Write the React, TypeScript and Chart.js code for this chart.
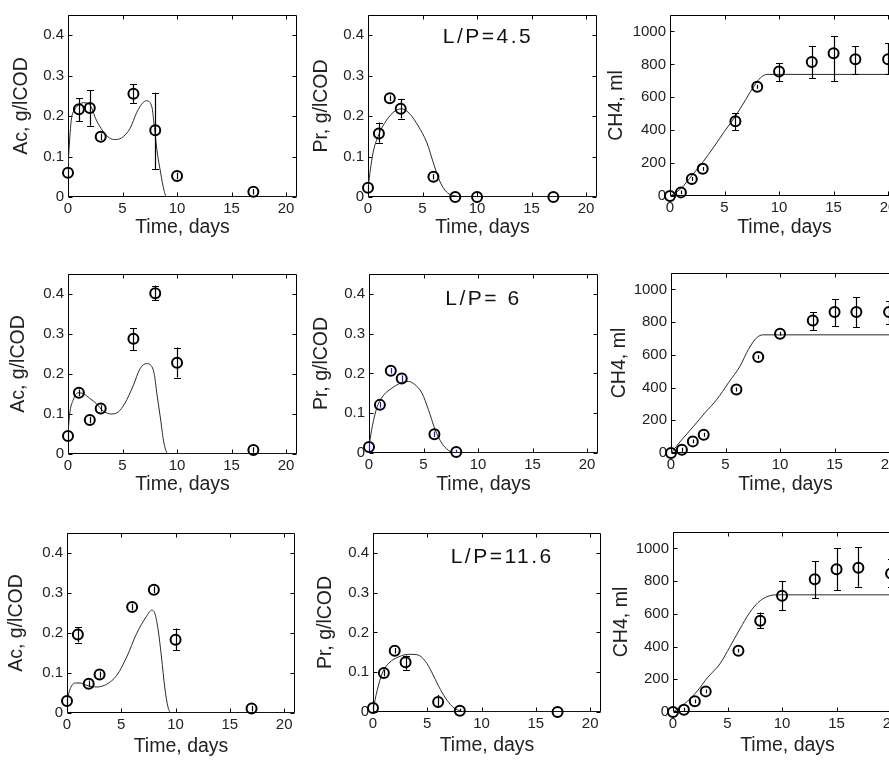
import React, { useEffect, useRef } from "react";
import { Chart, registerables } from "chart.js";

Chart.register(...registerables);

// ---------------- axis ticks & titles ----------------
const timeTicks = [0, 5, 10, 15, 20];
const timeTickLabels = ["0", "5", "10", "15", "20"];
const concTicks = [0, 0.1, 0.2, 0.3, 0.4];
const concTickLabels = ["0", "0.1", "0.2", "0.3", "0.4"];
const ch4Ticks = [0, 200, 400, 600, 800, 1000];
const ch4TickLabels = ["0", "200", "400", "600", "800", "1000"];
const timeTitle = "Time, days";
const acTitle = "Ac, g/lCOD";
const prTitle = "Pr, g/lCOD";
const ch4Title = "CH4, ml";
const lpLabels = ["L/P=4.5", "L/P= 6", "L/P=11.6"];

// ---------------- L/P = 4.5 ----------------
const ac45Days = [0, 1, 2, 3, 6, 8, 10, 17];
const ac45Vals = [0.06, 0.217, 0.22, 0.149, 0.255, 0.165, 0.052, 0.013];
const ac45Lo = [0.052, 0.188, 0.176, 0.141, 0.233, 0.069, 0.044, 0.006];
const ac45Hi = [0.068, 0.244, 0.264, 0.157, 0.279, 0.258, 0.06, 0.02];
const ac45CurveDays = [0, 0.1, 0.3, 0.6, 0.9, 1.4, 2.0, 2.6, 3.2, 3.8, 4.3, 4.9, 5.7, 6.3, 6.9, 7.2, 7.7, 7.85, 8.15, 8.5, 8.8, 9.05, 21];
const ac45CurveVals = [0.07, 0.12, 0.19, 0.215, 0.226, 0.233, 0.228, 0.19, 0.163, 0.146, 0.142, 0.146, 0.17, 0.209, 0.234, 0.238, 0.222, 0.19, 0.117, 0.059, 0.017, 0, 0];

const pr45Days = [0, 1, 2, 3, 6, 8, 10, 17];
const pr45Vals = [0.023, 0.157, 0.244, 0.218, 0.05, 0, 0, 0];
const pr45Lo = [0.016, 0.134, 0.237, 0.194, 0.043, 0, 0, 0];
const pr45Hi = [0.03, 0.184, 0.251, 0.243, 0.057, 0, 0, 0];
const pr45CurveDays = [0, 0.46, 0.92, 1.7, 2.5, 3.1, 3.85, 4.6, 5.4, 6.0, 6.6, 7.2, 8.15, 9, 21];
const pr45CurveVals = [0.025, 0.109, 0.15, 0.19, 0.213, 0.218, 0.205, 0.176, 0.134, 0.084, 0.038, 0.0125, 0.002, 0, 0];

const ch445Days = [0, 1, 2, 3, 6, 8, 10, 13, 15, 17, 20];
const ch445Vals = [0, 22, 104, 165, 454, 664, 756, 815, 868, 831, 831];
const ch445Lo = [0, 10, 92, 153, 399, 652, 699, 715, 699, 739, 739];
const ch445Hi = [0, 34, 116, 177, 505, 676, 806, 912, 973, 912, 929];
const ch445CurveDays = [0, 1, 2.05, 3, 4.05, 5, 6, 6.95, 7.7, 8.3, 8.9, 21];
const ch445CurveVals = [0, 45, 128, 205, 301, 393, 485, 587, 668, 719, 739, 739];

// ---------------- L/P = 6 ----------------
const ac6Days = [0, 1, 2, 3, 6, 8, 10, 17];
const ac6Vals = [0.045, 0.153, 0.085, 0.114, 0.288, 0.402, 0.228, 0.01];
const ac6Lo = [0.037, 0.145, 0.077, 0.106, 0.259, 0.385, 0.191, 0.003];
const ac6Hi = [0.053, 0.161, 0.093, 0.122, 0.315, 0.421, 0.266, 0.017];
const ac6CurveDays = [0, 0.15, 0.46, 0.92, 1.4, 2.0, 2.6, 3.2, 4.0, 4.6, 5.2, 6.0, 6.6, 7.2, 7.5, 7.9, 8.15, 8.5, 8.8, 9.2, 21];
const ac6CurveVals = [0.05, 0.1, 0.134, 0.153, 0.151, 0.139, 0.126, 0.108, 0.1, 0.105, 0.126, 0.172, 0.213, 0.226, 0.224, 0.201, 0.151, 0.085, 0.027, 0, 0];

const pr6Days = [0, 1, 2, 3, 6, 8];
const pr6Vals = [0.015, 0.121, 0.207, 0.187, 0.047, 0.0025];
const pr6Lo = [0.008, 0.114, 0.2, 0.179, 0.04, 0];
const pr6Hi = [0.022, 0.128, 0.214, 0.195, 0.054, 0.008];
const pr6CurveDays = [0, 0.3, 0.76, 1.36, 2.1, 3.0, 3.6, 4.2, 4.85, 5.45, 6.06, 6.67, 7.27, 7.9, 21];
const pr6CurveVals = [0.017, 0.067, 0.117, 0.146, 0.163, 0.177, 0.18, 0.172, 0.151, 0.109, 0.059, 0.025, 0.007, 0, 0];

const ch46Days = [0, 1, 2, 3, 6, 8, 10, 13, 15, 17, 20];
const ch46Vals = [0, 20, 71, 112, 388, 586, 729, 810, 861, 861, 861];
const ch46Lo = [0, 8, 59, 100, 376, 574, 717, 751, 776, 769, 786];
const ch46Hi = [0, 32, 83, 124, 400, 598, 741, 861, 939, 953, 929];
const ch46CurveDays = [0, 1, 2.07, 3.1, 4.2, 5.27, 6.33, 7.1, 7.85, 8.46, 21];
const ch46CurveVals = [0, 82, 163, 245, 327, 429, 531, 633, 704, 722, 722];

// ---------------- L/P = 11.6 ----------------
const ac116Days = [0, 1, 2, 3, 6, 8, 10, 17];
const ac116Vals = [0.03, 0.196, 0.073, 0.096, 0.265, 0.308, 0.183, 0.011];
const ac116Lo = [0.022, 0.176, 0.065, 0.088, 0.257, 0.3, 0.157, 0.004];
const ac116Hi = [0.038, 0.215, 0.081, 0.104, 0.273, 0.316, 0.211, 0.018];
const ac116CurveDays = [0, 0.3, 0.76, 1.2, 1.83, 2.75, 3.66, 4.58, 5.5, 6.4, 7.33, 7.8, 8.1, 8.4, 8.7, 9.0, 9.3, 9.6, 21];
const ac116CurveVals = [0.032, 0.061, 0.075, 0.075, 0.069, 0.065, 0.072, 0.094, 0.14, 0.198, 0.242, 0.257, 0.248, 0.207, 0.14, 0.065, 0.015, 0, 0];

const pr116Days = [0, 1, 2, 3, 6, 8, 17];
const pr116Vals = [0.01, 0.098, 0.154, 0.125, 0.025, 0.003, 0];
const pr116Lo = [0.003, 0.09, 0.147, 0.106, 0.01, 0, 0];
const pr116Hi = [0.017, 0.106, 0.161, 0.142, 0.043, 0.008, 0];
const pr116CurveDays = [0, 0.4, 0.86, 1.47, 2.4, 3.3, 4.07, 4.84, 5.45, 6.06, 6.68, 7.3, 7.9, 8.5, 21];
const pr116CurveVals = [0.006, 0.056, 0.098, 0.123, 0.139, 0.145, 0.144, 0.127, 0.098, 0.064, 0.035, 0.014, 0.004, 0, 0];

const ch4116Days = [0, 1, 2, 3, 6, 8, 10, 13, 15, 17, 20];
const ch4116Vals = [0, 14, 65, 126, 375, 558, 710, 811, 872, 882, 846];
const ch4116Lo = [0, 2, 53, 114, 363, 513, 623, 696, 746, 765, 761];
const ch4116Hi = [0, 26, 77, 138, 387, 608, 801, 923, 1000, 1008, 937];
const ch4116CurveDays = [0, 1.07, 2.15, 3.2, 4.3, 5.2, 6.13, 7.05, 7.8, 8.6, 9.5, 21];
const ch4116CurveVals = [0, 51, 122, 213, 294, 396, 507, 609, 669, 704, 716, 716];

// annotation anchor (data coordinates) for the L/P labels
const lpAnchorDays = [11, 10.5, 11.9];
const lpAnchorVals = [0.395, 0.387, 0.39];

// ---------------- styling / layout ----------------
const FONT = "'Liberation Sans', Arial, Helvetica, sans-serif";
const TITLE_SIZE = 19.5;
const TICK_SIZE = 15;
const TITLE_LH = 1.2;
const PAD_TOP = 16;
const PAD_RIGHT = 10;

type Panel = {
  box: [number, number, number, number]; // plot left, top, right, bottom (page px)
  yTitleOffset: number;
  xTitleOffset: number;
  yTitle: string;
  yMax: number;
  yTicks: number[];
  yTickLabels: string[];
  days: number[];
  vals: number[];
  lo: number[];
  hi: number[];
  curveDays: number[];
  curveVals: number[];
  errColor: string;
  label?: string;
  labelAt?: [number, number];
};

const conc = { yMax: 0.45, yTicks: concTicks, yTickLabels: concTickLabels };
const gas = { yMax: 1100, yTicks: ch4Ticks, yTickLabels: ch4TickLabels };

const panels: Panel[] = [
  { box: [68, 15, 297, 197], yTitleOffset: 46, xTitleOffset: 30, yTitle: acTitle, ...conc, days: ac45Days, vals: ac45Vals, lo: ac45Lo, hi: ac45Hi, curveDays: ac45CurveDays, curveVals: ac45CurveVals, errColor: "#000" },
  { box: [368, 15, 597, 197], yTitleOffset: 46, xTitleOffset: 30, yTitle: prTitle, ...conc, days: pr45Days, vals: pr45Vals, lo: pr45Lo, hi: pr45Hi, curveDays: pr45CurveDays, curveVals: pr45CurveVals, errColor: "#000", label: lpLabels[0], labelAt: [lpAnchorDays[0], lpAnchorVals[0]] },
  { box: [670, 15, 899, 196], yTitleOffset: 53, xTitleOffset: 31, yTitle: ch4Title, ...gas, days: ch445Days, vals: ch445Vals, lo: ch445Lo, hi: ch445Hi, curveDays: ch445CurveDays, curveVals: ch445CurveVals, errColor: "#000" },
  { box: [68, 274, 297, 454], yTitleOffset: 49, xTitleOffset: 30, yTitle: acTitle, ...conc, days: ac6Days, vals: ac6Vals, lo: ac6Lo, hi: ac6Hi, curveDays: ac6CurveDays, curveVals: ac6CurveVals, errColor: "#000" },
  { box: [369, 274, 598, 453], yTitleOffset: 47, xTitleOffset: 31, yTitle: prTitle, ...conc, days: pr6Days, vals: pr6Vals, lo: pr6Lo, hi: pr6Hi, curveDays: pr6CurveDays, curveVals: pr6CurveVals, errColor: "#1010ff", label: lpLabels[1], labelAt: [lpAnchorDays[1], lpAnchorVals[1]] },
  { box: [671, 273, 900, 453], yTitleOffset: 51, xTitleOffset: 31, yTitle: ch4Title, ...gas, days: ch46Days, vals: ch46Vals, lo: ch46Lo, hi: ch46Hi, curveDays: ch46CurveDays, curveVals: ch46CurveVals, errColor: "#000" },
  { box: [67, 533, 295, 713], yTitleOffset: 50, xTitleOffset: 33, yTitle: acTitle, ...conc, days: ac116Days, vals: ac116Vals, lo: ac116Lo, hi: ac116Hi, curveDays: ac116CurveDays, curveVals: ac116CurveVals, errColor: "#000" },
  { box: [373, 533, 601, 712], yTitleOffset: 47, xTitleOffset: 33, yTitle: prTitle, ...conc, days: pr116Days, vals: pr116Vals, lo: pr116Lo, hi: pr116Hi, curveDays: pr116CurveDays, curveVals: pr116CurveVals, errColor: "#000", label: lpLabels[2], labelAt: [lpAnchorDays[2], lpAnchorVals[2]] },
  { box: [673, 532, 902, 712], yTitleOffset: 51, xTitleOffset: 33, yTitle: ch4Title, ...gas, days: ch4116Days, vals: ch4116Vals, lo: ch4116Lo, hi: ch4116Hi, curveDays: ch4116CurveDays, curveVals: ch4116CurveVals, errColor: "#000" },
];

function geometry(p: Panel) {
  const [l, t, r, b] = p.box;
  const L = Math.round(p.yTitleOffset + (TITLE_SIZE * TITLE_LH) / 2);
  const B = Math.round(p.xTitleOffset + (TITLE_SIZE * TITLE_LH) / 2);
  const width = L + (r - l) + PAD_RIGHT;
  const height = PAD_TOP + (b - t) + B;
  return { L, B, width, height, left: l - L, top: t - PAD_TOP };
}

function buildConfig(p: Panel, L: number, B: number): any {
  const framePlugin = {
    id: "frame",
    beforeDatasetsDraw(chart: any) {
      const { ctx, chartArea, scales } = chart;
      const left = Math.round(chartArea.left) + 0.5;
      const right = Math.round(chartArea.right) - 0.5;
      const top = Math.round(chartArea.top) + 0.5;
      const bottom = Math.round(chartArea.bottom) - 0.5;
      ctx.save();
      ctx.strokeStyle = "#000";
      ctx.lineWidth = 1;
      ctx.beginPath();
      ctx.rect(left, top, right - left, bottom - top);
      const tl = 4;
      for (const v of timeTicks) {
        const px = Math.round(scales.x.getPixelForValue(v)) + 0.5;
        ctx.moveTo(px, bottom);
        ctx.lineTo(px, bottom - tl);
        ctx.moveTo(px, top);
        ctx.lineTo(px, top + tl);
      }
      for (const v of p.yTicks) {
        const py = Math.round(scales.y.getPixelForValue(v)) + 0.5;
        ctx.moveTo(left, py);
        ctx.lineTo(left + tl, py);
        ctx.moveTo(right, py);
        ctx.lineTo(right - tl, py);
      }
      ctx.stroke();
      ctx.restore();
    },
  };

  const errPlugin = {
    id: "errbars",
    afterDatasetsDraw(chart: any) {
      const { ctx, scales } = chart;
      ctx.save();
      ctx.strokeStyle = p.errColor;
      ctx.lineWidth = 1.2;
      ctx.beginPath();
      p.days.forEach((d, i) => {
        if (p.hi[i] - p.lo[i] <= 0) return;
        const x = Math.round(scales.x.getPixelForValue(d)) + 0.5;
        const y1 = scales.y.getPixelForValue(p.lo[i]);
        const y2 = scales.y.getPixelForValue(p.hi[i]);
        ctx.moveTo(x, y1);
        ctx.lineTo(x, y2);
        if (y1 - y2 > 14) {
          ctx.moveTo(x - 3.5, Math.round(y1) + 0.5);
          ctx.lineTo(x + 3.5, Math.round(y1) + 0.5);
          ctx.moveTo(x - 3.5, Math.round(y2) + 0.5);
          ctx.lineTo(x + 3.5, Math.round(y2) + 0.5);
        }
      });
      ctx.stroke();
      ctx.restore();
    },
  };

  const labelPlugin = {
    id: "lpLabel",
    afterDraw(chart: any) {
      if (!p.label || !p.labelAt) return;
      const { ctx, scales } = chart;
      const x = scales.x.getPixelForValue(p.labelAt[0]);
      const y = scales.y.getPixelForValue(p.labelAt[1]);
      ctx.save();
      ctx.font = `21px ${FONT}`;
      (ctx as any).letterSpacing = "2.5px";
      ctx.fillStyle = "#111";
      ctx.textBaseline = "middle";
      ctx.textAlign = "left";
      const w = ctx.measureText(p.label).width;
      ctx.fillText(p.label, x - w / 2, y);
      ctx.restore();
    },
  };

  const tickFont = { family: FONT, size: TICK_SIZE, lineHeight: 1.2 };
  const titleFont = { family: FONT, size: TITLE_SIZE, lineHeight: TITLE_LH };

  return {
    type: "scatter",
    data: {
      datasets: [
        {
          type: "line",
          data: p.curveDays.map((d, i) => ({ x: d, y: p.curveVals[i] })),
          borderColor: "#2a2a2a",
          borderWidth: 1,
          pointRadius: 0,
          fill: false,
          cubicInterpolationMode: "monotone",
          order: 2,
        },
        {
          type: "scatter",
          data: p.days.map((d, i) => ({ x: d, y: p.vals[i] })),
          pointStyle: "circle",
          pointRadius: 5,
          pointBorderWidth: 2,
          borderWidth: 2,
          borderColor: "#000",
          backgroundColor: "rgba(0,0,0,0)",
          pointBackgroundColor: "rgba(0,0,0,0)",
          clip: false,
          order: 1,
        },
      ],
    },
    options: {
      animation: false,
      responsive: false,
      events: [],
      layout: { padding: { left: 0, top: PAD_TOP, right: PAD_RIGHT, bottom: 0 } },
      plugins: { legend: { display: false }, tooltip: { enabled: false }, title: { display: false } },
      scales: {
        x: {
          type: "linear",
          min: 0,
          max: 21,
          grid: { display: false, drawTicks: false },
          border: { display: false },
          afterBuildTicks: (s: any) => {
            s.ticks = timeTicks.map((v) => ({ value: v }));
          },
          ticks: {
            autoSkip: false,
            maxRotation: 0,
            padding: 3,
            color: "#222",
            font: tickFont,
            callback: (_v: any, i: number) => timeTickLabels[i],
          },
          title: { display: true, text: timeTitle, color: "#222", font: titleFont, padding: 0 },
          afterFit: (s: any) => {
            s.height = B;
          },
        },
        y: {
          type: "linear",
          min: 0,
          max: p.yMax,
          grid: { display: false, drawTicks: false },
          border: { display: false },
          afterBuildTicks: (s: any) => {
            s.ticks = p.yTicks.map((v) => ({ value: v }));
          },
          ticks: {
            autoSkip: false,
            padding: 4,
            color: "#222",
            font: tickFont,
            callback: (_v: any, i: number) => p.yTickLabels[i],
          },
          title: { display: true, text: p.yTitle, color: "#222", font: titleFont, padding: 0 },
          afterFit: (s: any) => {
            s.width = L;
          },
        },
      },
    },
    plugins: [framePlugin, errPlugin, labelPlugin],
  };
}

function PanelChart({ p }: { p: Panel }) {
  const ref = useRef<HTMLCanvasElement>(null);
  const g = geometry(p);
  useEffect(() => {
    if (!ref.current) return;
    const chart = new Chart(ref.current, buildConfig(p, g.L, g.B));
    return () => chart.destroy();
  }, []);
  return (
    <canvas
      ref={ref}
      width={g.width}
      height={g.height}
      style={{ position: "absolute", left: g.left, top: g.top, width: g.width, height: g.height }}
    />
  );
}

export default function App() {
  return (
    <div
      style={{
        position: "absolute",
        left: 0,
        top: 0,
        width: 889,
        height: 762,
        overflow: "hidden",
        background: "#fff",
      }}
    >
      {panels.map((p, i) => (
        <PanelChart key={i} p={p} />
      ))}
    </div>
  );
}
